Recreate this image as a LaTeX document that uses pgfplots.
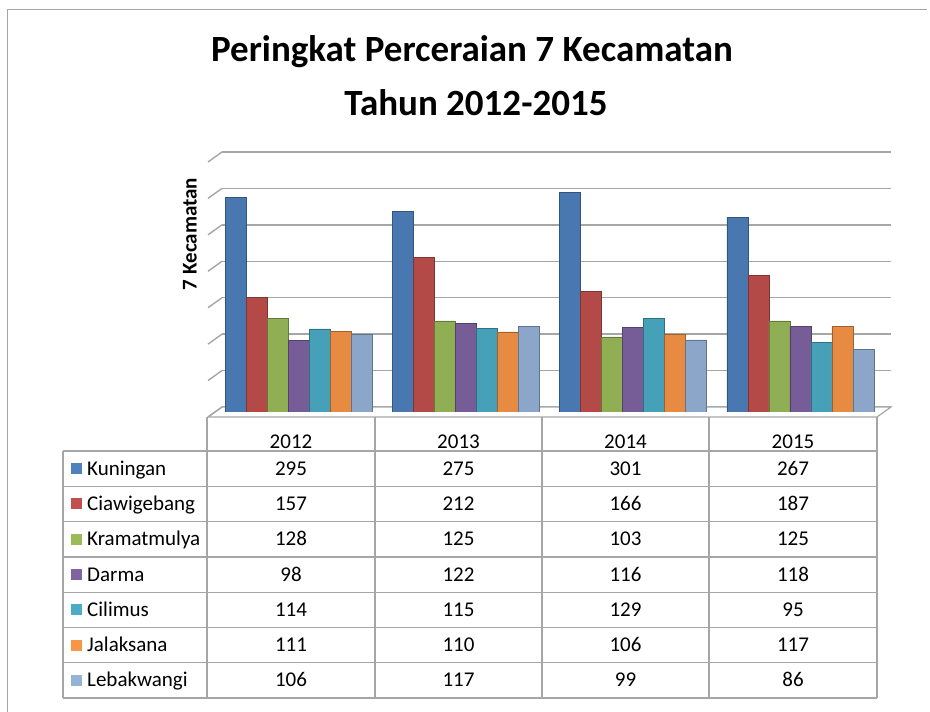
\documentclass[border=0pt]{standalone}
\usepackage{pgfplots}
\pgfplotsset{compat=1.18}
\usepackage{fontspec}
\setmainfont{Carlito}
\definecolor{cKun}{HTML}{4F81BD}
\definecolor{cCia}{HTML}{C0504D}
\definecolor{cKra}{HTML}{9BBB59}
\definecolor{cDar}{HTML}{8064A2}
\definecolor{cCil}{HTML}{4BACC6}
\definecolor{cJal}{HTML}{F79646}
\definecolor{cLeb}{HTML}{95B3D7}
\definecolor{gridc}{HTML}{A6A6A6}
\tikzset{cyl/.style={fill=#1!93!black, draw=#1!65!black, line width=0.6bp}}
\begin{document}
\begin{tikzpicture}
\path[use as bounding box] (0,0) rectangle (930bp,712bp);
% back wall with gridlines
\begin{axis}[at={(222bp,305bp)}, anchor=south west, scale only axis,
  width=669bp, height=255bp, xmin=-0.5, xmax=3.5, ymin=0, ymax=350,
  ytick={0,50,...,350}, xtick=\empty, yticklabels={},
  ymajorgrids, grid style={line width=1.4bp, color=gridc},
  axis line style={draw=none}, major tick length=0pt]
\addplot[draw=none] coordinates {(0,0)};
\end{axis}
\begin{scope}[yshift=712bp, x=1bp, y=-1bp]
  % floor
  \draw[gridc, line width=1.2bp, fill=white] (208,417) -- (877,417) -- (891,407) -- (222,407) -- cycle;
  % left wall slants
  \foreach \v in {0,50,...,350} {
    \draw[gridc, line width=1.4bp] (208,{417-0.7286*\v}) -- (222,{407-0.7286*\v});
  }
\end{scope}
% bars
\begin{axis}[at={(215bp,300bp)}, anchor=south west, scale only axis,
  width=669bp, height=255bp, xmin=-0.5, xmax=3.5, ymin=0, ymax=350,
  ybar=0pt, bar width=21bp, axis lines=none]
\addplot[cyl=cKun] coordinates {(0,295) (1,275) (2,301) (3,267)};
\addplot[cyl=cCia] coordinates {(0,157) (1,212) (2,166) (3,187)};
\addplot[cyl=cKra] coordinates {(0,128) (1,125) (2,103) (3,125)};
\addplot[cyl=cDar] coordinates {(0,98) (1,122) (2,116) (3,118)};
\addplot[cyl=cCil] coordinates {(0,114) (1,115) (2,129) (3,95)};
\addplot[cyl=cJal] coordinates {(0,111) (1,110) (2,106) (3,117)};
\addplot[cyl=cLeb] coordinates {(0,106) (1,117) (2,99) (3,86)};
\end{axis}
\begin{scope}[yshift=712bp, x=1bp, y=-1bp]
  % outer frame
  \draw[gridc, line width=1.4bp] (7.5,712) -- (7.5,9.5) -- (927,9.5);
  % title
  \node[anchor=base, font=\fontsize{37bp}{44bp}\selectfont\bfseries] at (472,62) {Peringkat Perceraian 7 Kecamatan};
  \node[anchor=base, font=\fontsize{37bp}{44bp}\selectfont\bfseries] at (476,116) {Tahun 2012-2015};
  % y label
  \node[rotate=90, font=\fontsize{21bp}{25bp}\selectfont\bfseries] at (190,234) {7 Kecamatan};
  % data table grid
  \begin{scope}[gridc, line width=1.3bp]
    \draw (63,451) -- (877,451);
    \foreach \r in {1,...,7} { \draw (63,{451+35.29*\r}) -- (877,{451+35.29*\r}); }
    \draw (63,451) -- (63,698);
    \foreach \c in {207,375,542,709,877} { \draw (\c,417) -- (\c,698); }
  \end{scope}
  % headers
  \foreach \y/\c in {2012/291,2013/458.5,2014/625.5,2015/793} {
    \node[anchor=base, font=\fontsize{21bp}{24bp}\selectfont] at (\c,449) {\y};
  }
  % rows
  \foreach \k/\name/\col/\a/\b/\cc/\d in {
      0/Kuningan/cKun/295/275/301/267,
      1/Ciawigebang/cCia/157/212/166/187,
      2/Kramatmulya/cKra/128/125/103/125,
      3/Darma/cDar/98/122/116/118,
      4/Cilimus/cCil/114/115/129/95,
      5/Jalaksana/cJal/111/110/106/117,
      6/Lebakwangi/cLeb/106/117/99/86} {
    \pgfmathsetmacro\yc{451+35.29*(\k+0.5)}
    \fill[\col] (71,\yc-5.5) rectangle (82,\yc+5.5);
    \node[anchor=base west, inner sep=0pt, font=\fontsize{21bp}{24bp}\selectfont] at (87,\yc+6.5) {\name};
    \node[anchor=base, inner sep=0pt, font=\fontsize{21bp}{24bp}\selectfont] at (291,\yc+6.5) {\a};
    \node[anchor=base, inner sep=0pt, font=\fontsize{21bp}{24bp}\selectfont] at (458.5,\yc+6.5) {\b};
    \node[anchor=base, inner sep=0pt, font=\fontsize{21bp}{24bp}\selectfont] at (625.5,\yc+6.5) {\cc};
    \node[anchor=base, inner sep=0pt, font=\fontsize{21bp}{24bp}\selectfont] at (793,\yc+6.5) {\d};
  }
\end{scope}
\end{tikzpicture}
\end{document}
